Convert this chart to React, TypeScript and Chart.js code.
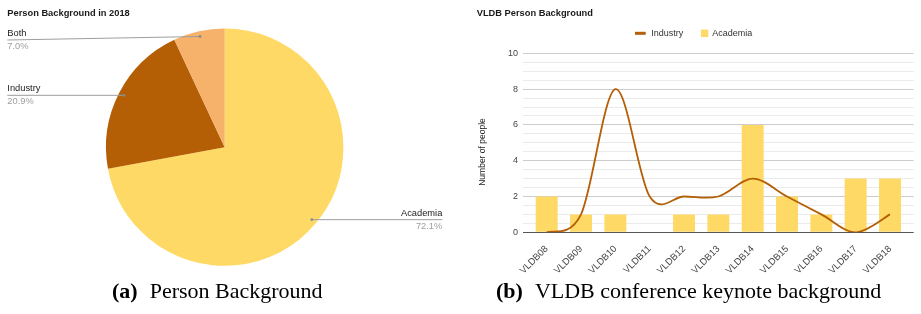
import React, { useEffect, useRef } from 'react';
import { Chart, registerables } from 'chart.js';

Chart.register(...registerables);

const FONT = '"Liberation Sans", Arial, sans-serif';

// ---- Left chart (pie) ----
const pieTitle = 'Person Background in 2018';
const pieLabels = ['Academia', 'Industry', 'Both'];
const pieCounts = [31, 9, 3];
const pieColors = ['#FFD966', '#B45F06', '#F6B26B'];

// ---- Right chart (bar + line) ----
const barTitle = 'VLDB Person Background';
const conferences = ['VLDB08', 'VLDB09', 'VLDB10', 'VLDB11', 'VLDB12', 'VLDB13', 'VLDB14', 'VLDB15', 'VLDB16', 'VLDB17', 'VLDB18'];
const industry = [0, 1, 8, 2, 2, 2, 3, 2, 1, 0, 1];
const academia = [2, 1, 1, 0, 1, 1, 6, 2, 1, 3, 3];
const yTickLabels = [0, 2, 4, 6, 8, 10];
const yTitle = 'Number of people';
const industryColor = '#B45F06';
const academiaColor = '#FFD966';

// ---- Captions ----
const captionA = ['(a)', 'Person Background'];
const captionB = ['(b)', 'VLDB conference keynote background'];

const pieLabelPlugin = {
  id: 'pieLabels',
  afterDraw(chart: any) {
    const ctx = chart.ctx as CanvasRenderingContext2D;
    const meta = chart.getDatasetMeta(0);
    const data = chart.data.datasets[0].data as number[];
    const labels = chart.data.labels as string[];
    const total = data.reduce((a, b) => a + b, 0);
    ctx.save();
    ctx.textBaseline = 'middle';
    ctx.textAlign = 'left';
    ctx.font = `bold 9.3px ${FONT}`;
    ctx.fillStyle = '#1a1a1a';
    ctx.fillText(pieTitle, 7.3, 13.3);
    meta.data.forEach((arc: any, i: number) => {
      const { x, y, startAngle, endAngle, outerRadius } = arc.getProps(['x', 'y', 'startAngle', 'endAngle', 'outerRadius'], true);
      const mid = (startAngle + endAngle) / 2;
      const ax = x + Math.cos(mid) * outerRadius * 0.955;
      const ay = y + Math.sin(mid) * outerRadius * 0.955;
      const right = ax > x;
      const lineY = right ? ay : Math.max(ay, 40);
      const endX = right ? 442.3 : 7.3;
      ctx.strokeStyle = '#9e9e9e';
      ctx.lineWidth = 1;
      ctx.beginPath();
      ctx.moveTo(ax, ay);
      ctx.lineTo(endX, lineY);
      ctx.stroke();
      ctx.fillStyle = '#8a8a8a';
      ctx.beginPath();
      ctx.arc(ax, ay, 1.4, 0, Math.PI * 2);
      ctx.fill();
      ctx.textAlign = right ? 'right' : 'left';
      ctx.font = `9.3px ${FONT}`;
      ctx.fillStyle = '#222222';
      ctx.fillText(labels[i], endX, lineY - 6.5);
      ctx.fillStyle = '#9e9e9e';
      ctx.fillText(((data[i] / total) * 100).toFixed(1) + '%', endX, lineY + 6.3);
    });
    ctx.restore();
  },
};

// Uniform (Catmull-Rom style) smoothing for the line, like a "function" curve
const uniformSplinePlugin = {
  id: 'uniformSpline',
  beforeDatasetsDraw(chart: any) {
    chart.data.datasets.forEach((ds: any, di: number) => {
      if (ds.type !== 'line') return;
      const meta = chart.getDatasetMeta(di);
      const line = meta.dataset;
      if (line && line.updateControlPoints) line.updateControlPoints(chart.chartArea, 'x');
      const pts = meta.data as any[];
      const k = 1 / 6;
      pts.forEach((p: any, i: number) => {
        const prev = pts[i - 1] || p;
        const next = pts[i + 1] || p;
        const dx = next.x - prev.x;
        const dy = next.y - prev.y;
        p.cp1x = p.x - k * dx;
        p.cp1y = p.y - k * dy;
        p.cp2x = p.x + k * dx;
        p.cp2y = p.y + k * dy;
      });
      if (line) line._path = undefined;
    });
  },
};

const barDecorPlugin = {
  id: 'barDecor',
  afterDraw(chart: any) {
    const ctx = chart.ctx as CanvasRenderingContext2D;
    ctx.save();
    ctx.textBaseline = 'middle';
    ctx.textAlign = 'left';
    // title
    ctx.font = `bold 9.3px ${FONT}`;
    ctx.fillStyle = '#1a1a1a';
    ctx.fillText(barTitle, 16.7, 13.3);
    // legend
    ctx.font = `9px ${FONT}`;
    let lx = 175;
    const ly = 33.3;
    chart.data.datasets.forEach((ds: any) => {
      if (ds.type === 'line') {
        ctx.fillStyle = ds.borderColor;
        ctx.fillRect(lx, ly - 1.5, 10.7, 3);
        lx += 10.7 + 5.5;
      } else {
        ctx.fillStyle = ds.backgroundColor;
        ctx.fillRect(lx, ly - 3.7, 7.4, 7.4);
        lx += 7.4 + 4;
      }
      ctx.fillStyle = '#333333';
      ctx.fillText(ds.label, lx, ly);
      lx += ctx.measureText(ds.label).width + 17.7;
    });
    // y title
    ctx.save();
    ctx.translate(23, 152);
    ctx.rotate(-Math.PI / 2);
    ctx.textAlign = 'center';
    ctx.font = `8.5px ${FONT}`;
    ctx.fillStyle = '#222222';
    ctx.fillText(yTitle, 0, 0);
    ctx.restore();
    ctx.restore();
  },
};

export default function App() {
  const pieRef = useRef<HTMLCanvasElement>(null);
  const barRef = useRef<HTMLCanvasElement>(null);

  useEffect(() => {
    const pie = new Chart(pieRef.current!, {
      type: 'pie',
      data: {
        labels: pieLabels,
        datasets: [
          {
            data: pieCounts,
            backgroundColor: pieColors,
            borderWidth: 0,
          },
        ],
      },
      options: {
        responsive: false,
        animation: false,
        layout: { padding: { left: 106, right: 116.6, top: 28.3, bottom: 14 } },
        plugins: { legend: { display: false }, tooltip: { enabled: false }, title: { display: false } },
      },
      plugins: [pieLabelPlugin],
    } as any);

    const bar = new Chart(barRef.current!, {
      type: 'bar',
      data: {
        datasets: [
          {
            type: 'line',
            label: 'Industry',
            data: conferences.map((_, i) => ({ x: i, y: industry[i] })),
            borderColor: industryColor,
            backgroundColor: industryColor,
            borderWidth: 1.8,
            tension: 0.4,
            capBezierPoints: false,
            pointRadius: 0,
            fill: false,
            order: 0,
          },
          {
            type: 'bar',
            label: 'Academia',
            data: conferences.map((_, i) => ({ x: i, y: academia[i] })),
            backgroundColor: academiaColor,
            borderWidth: 0,
            barPercentage: 0.64,
            categoryPercentage: 1,
            order: 1,
          },
        ],
      },
      options: {
        responsive: false,
        animation: false,
        layout: { padding: { top: 53.3, right: 7.3, left: 0, bottom: 0 } },
        plugins: { legend: { display: false }, tooltip: { enabled: false }, title: { display: false } },
        scales: {
          x: {
            type: 'linear',
            offset: false,
            min: -0.69,
            max: 10.69,
            grid: { display: false, offset: false },
            border: { display: false },
            afterBuildTicks: (s: any) => {
              s.ticks = conferences.map((_, i) => ({ value: i }));
            },
            afterFit: (s: any) => {
              s.height = 47.7;
            },
            ticks: {
              autoSkip: false,
              maxRotation: 45,
              minRotation: 45,
              padding: 3,
              color: '#444444',
              font: { family: FONT, size: 9.5 },
              callback: (v: any) => conferences[Math.round(Number(v))] ?? '',
            },
          },
          y: {
            min: 0,
            max: 10,
            afterFit: (s: any) => {
              s.width = 63;
            },
            border: { display: false },
            grid: {
              drawTicks: false,
              color: (c: any) => {
                const v = c.tick ? c.tick.value : 1;
                if (v === 0) return '#555555';
                if (yTickLabels.includes(v)) return '#cccccc';
                return '#ebebeb';
              },
            },
            ticks: {
              stepSize: 0.5,
              autoSkip: false,
              padding: 5,
              color: '#444444',
              font: { family: FONT, size: 9 },
              callback: (v: any) => (yTickLabels.includes(Number(v)) ? String(v) : ''),
            },
          },
        },
      },
      plugins: [uniformSplinePlugin, barDecorPlugin],
    } as any);

    return () => {
      pie.destroy();
      bar.destroy();
    };
  }, []);

  const capStyle: React.CSSProperties = {
    position: 'absolute',
    top: 279.6,
    fontFamily: '"Liberation Serif", "Times New Roman", serif',
    fontSize: 22,
    lineHeight: 1,
    whiteSpace: 'nowrap',
    color: '#000',
  };

  return (
    <div style={{ position: 'absolute', left: 0, top: 0, width: 921, height: 314, background: '#fff', overflow: 'hidden' }}>
      <canvas ref={pieRef} width={460} height={280} style={{ position: 'absolute', left: 0, top: 0, width: 460, height: 280 }} />
      <canvas ref={barRef} width={461} height={280} style={{ position: 'absolute', left: 460, top: 0, width: 461, height: 280 }} />
      <div style={{ ...capStyle, left: 112 }}>
        <b>{captionA[0]}</b>
        <span style={{ marginLeft: 12 }}>{captionA[1]}</span>
      </div>
      <div style={{ ...capStyle, left: 496 }}>
        <b>{captionB[0]}</b>
        <span style={{ marginLeft: 12 }}>{captionB[1]}</span>
      </div>
    </div>
  );
}
